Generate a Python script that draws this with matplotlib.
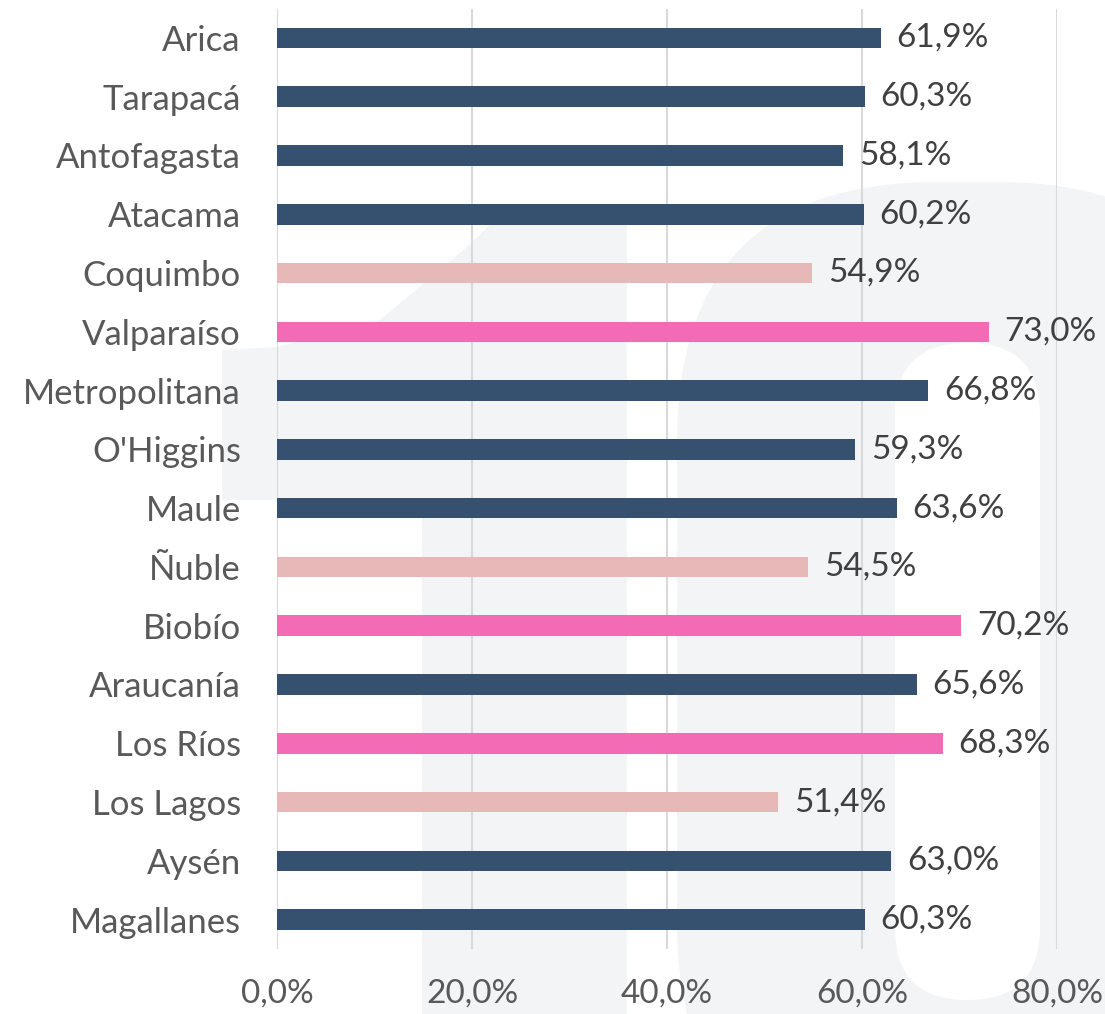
import matplotlib
matplotlib.use("Agg")
import matplotlib.pyplot as plt
from matplotlib.patches import Polygon, FancyBboxPatch

# Daten
regiones = ["Arica", "Tarapacá", "Antofagasta", "Atacama", "Coquimbo", "Valparaíso",
            "Metropolitana", "O'Higgins", "Maule", "Ñuble", "Biobío", "Araucanía",
            "Los Ríos", "Los Lagos", "Aysén", "Magallanes"]
valores = [61.9, 60.3, 58.1, 60.2, 54.9, 73.0, 66.8, 59.3, 63.6, 54.5, 70.2, 65.6,
           68.3, 51.4, 63.0, 60.3]
grupo = ["n", "n", "n", "n", "l", "p", "n", "n", "n", "l", "p", "n", "p", "l", "n", "n"]
ticks = [0, 20, 40, 60, 80]

colores = {"n": "#36506F", "l": "#E6B8B7", "p": "#F46BB5"}
gris_texto = "#595959"
gris_valor = "#404040"
plt.rcParams["font.family"] = ["Lato", "DejaVu Sans"]

W, H = 1105, 1014
fig = plt.figure(figsize=(W / 100, H / 100), dpi=100)

# Marca de agua "10" muy tenue, en coordenadas de pixel
bg = fig.add_axes([0, 0, 1, 1], zorder=0)
bg.set_xlim(0, W)
bg.set_ylim(H, 0)
bg.axis("off")
wm = "#F3F4F6"
uno = Polygon([(222, 350), (277, 347), (380, 320), (467, 247), (490, 225), (627, 225),
               (627, 1014), (422, 1014), (422, 500), (222, 500)],
              closed=True, color=wm, lw=0)
bg.add_patch(uno)
cero = FancyBboxPatch((677, 182), 580, 1000, boxstyle="round,pad=0,rounding_size=260",
                      color=wm, lw=0)
bg.add_patch(cero)
hueco = FancyBboxPatch((895, 343), 145, 657, boxstyle="round,pad=0,rounding_size=72",
                       color="white", lw=0)
bg.add_patch(hueco)

ax = fig.add_axes([277 / W, 65 / H, 780 / W, 940.5 / H], zorder=1)
ax.set_facecolor("none")

pos = list(range(len(regiones)))
ax.barh(pos, valores, height=0.35, color=[colores[g] for g in grupo], zorder=3)

for y, v in zip(pos, valores):
    ax.text(v + 1.6, y, f"{v:.1f}%".replace(".", ","), va="center", ha="left",
            fontsize=24, color=gris_valor, zorder=4)

ax.set_ylim(len(regiones) - 0.5, -0.5)
ax.set_xlim(0, 80)
ax.set_yticks(pos)
ax.set_yticklabels(regiones, fontsize=25, color=gris_texto)
ax.set_xticks(ticks)
ax.set_xticklabels([f"{t:.1f}%".replace(".", ",") for t in ticks], fontsize=24, color=gris_texto)
ax.tick_params(axis="y", length=0, pad=26)
ax.tick_params(axis="x", length=0, pad=21)

ax.grid(axis="x", color="#D9D9D9", linewidth=1.5, zorder=1)
for s in ax.spines.values():
    s.set_visible(False)

fig.savefig("out.png", dpi=100, facecolor="white")
